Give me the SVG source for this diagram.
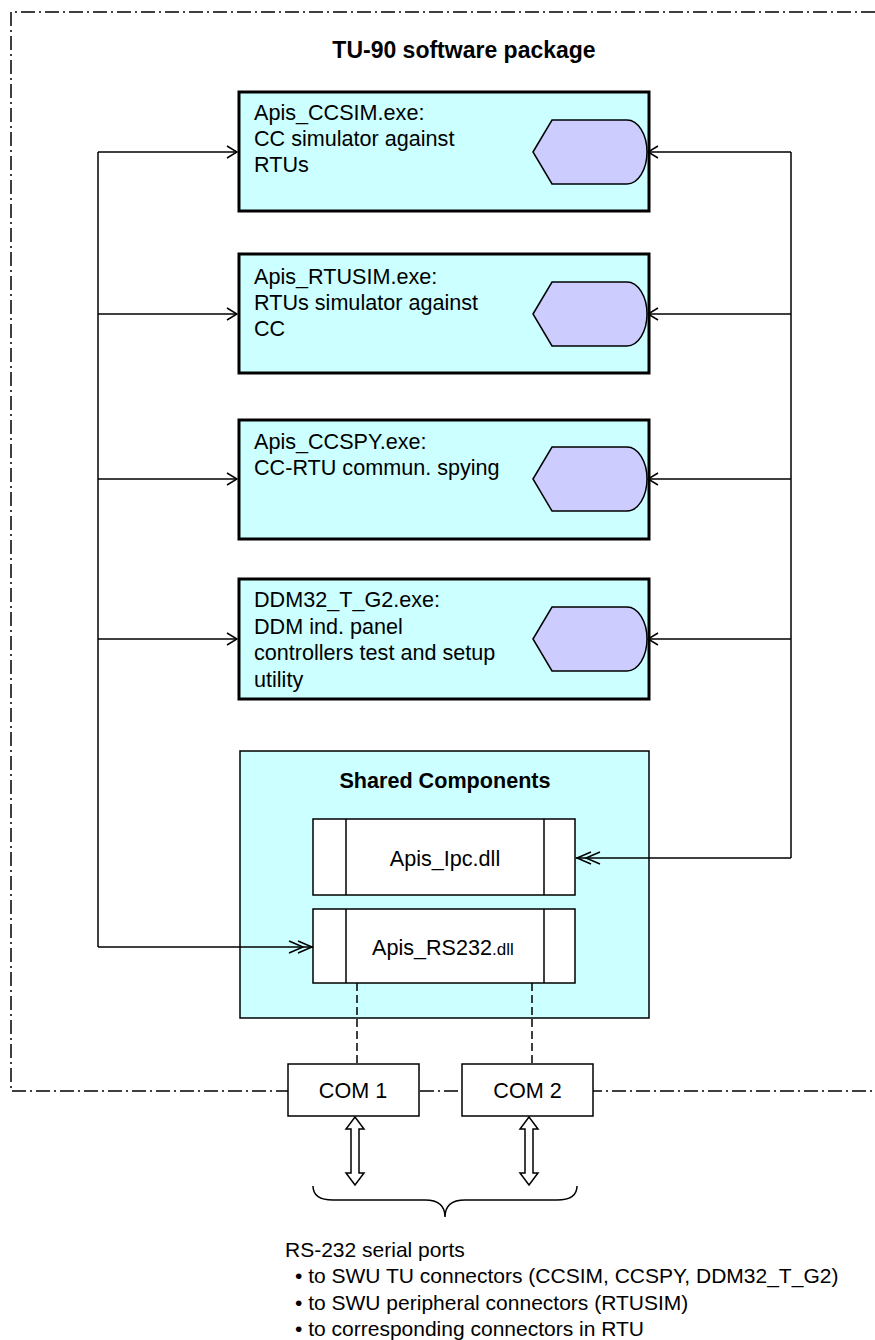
<svg xmlns="http://www.w3.org/2000/svg" width="875" height="1340" viewBox="0 0 875 1340">
<style>
text{font-family:"Liberation Sans",Arial,sans-serif;fill:#000}
.t{font-size:21.6px}
.f{font-size:21px}
.b{font-weight:bold}
.exe{fill:#CCFFFF;stroke:#000;stroke-width:3}
.hex{fill:#CCCCFF;stroke:#000;stroke-width:1.5}
.thin{stroke:#000;stroke-width:1.5}
.w{fill:#fff;stroke:#000;stroke-width:1.5}
.ln{fill:none;stroke:#000;stroke-width:1.5}
</style>
<defs>
<marker id="a1" viewBox="0 0 12 14" refX="11" refY="7" markerWidth="12" markerHeight="14" orient="auto" markerUnits="userSpaceOnUse"><path d="M1,1 L11,7 L1,13" fill="none" stroke="#000" stroke-width="1.5"/></marker>
<marker id="a2" viewBox="0 0 26 14" refX="25" refY="7" markerWidth="26" markerHeight="14" orient="auto" markerUnits="userSpaceOnUse"><path d="M1,1 L15,7 L1,13 M10,1 L24,7 L10,13" fill="none" stroke="#000" stroke-width="1.5"/></marker>
</defs>
<rect width="875" height="1340" fill="#fff"/>
<path d="M875,12 L11,12 L11,1091 L875,1091" fill="none" stroke="#000" stroke-width="1.5" stroke-dasharray="14 4 2 4"/>
<text class="b" x="464" y="58" font-size="23" text-anchor="middle">TU-90 software package</text>

<g id="ccsim">
<rect class="exe" x="239" y="92" width="410" height="119"/>
<path class="hex" d="M533,152 L552,120 L627,120 A20,32 0 0 1 647,152 A20,32 0 0 1 627,184 L552,184 Z"/>
<text class="t" x="254"><tspan x="254" y="120">Apis_CCSIM.exe:</tspan><tspan x="254" y="146">CC simulator against</tspan><tspan x="254" y="172">RTUs</tspan></text>
</g>
<g id="rtusim">
<rect class="exe" x="239" y="254" width="410" height="119"/>
<path class="hex" d="M533,314 L552,282 L627,282 A20,32 0 0 1 647,314 A20,32 0 0 1 627,346 L552,346 Z"/>
<text class="t" x="254"><tspan x="254" y="284">Apis_RTUSIM.exe:</tspan><tspan x="254" y="310">RTUs simulator against</tspan><tspan x="254" y="336">CC</tspan></text>
</g>
<g id="ccspy">
<rect class="exe" x="239" y="420" width="410" height="119"/>
<path class="hex" d="M533,479 L552,447 L627,447 A20,32 0 0 1 647,479 A20,32 0 0 1 627,511 L552,511 Z"/>
<text class="t" x="254"><tspan x="254" y="449">Apis_CCSPY.exe:</tspan><tspan x="254" y="475">CC-RTU commun. spying</tspan></text>
</g>
<g id="ddm32">
<rect class="exe" x="239" y="579" width="410" height="120"/>
<path class="hex" d="M533,639 L552,607 L627,607 A20,32 0 0 1 647,639 A20,32 0 0 1 627,671 L552,671 Z"/>
<text class="t" x="254"><tspan x="254" y="607">DDM32_T_G2.exe:</tspan><tspan x="254" y="633.5">DDM ind. panel</tspan><tspan x="254" y="660">controllers test and setup</tspan><tspan x="254" y="686.5">utility</tspan></text>
</g>
<g id="shared">
<rect x="240" y="751" width="409" height="267" fill="#CCFFFF" stroke="#000" stroke-width="1.5"/>
<text class="b" x="445" y="788" font-size="21.6" text-anchor="middle">Shared Components</text>
</g>
<g id="ipc">
<rect class="w" x="313" y="819" width="262" height="76"/>
<line class="thin" x1="346" y1="819" x2="346" y2="895"/>
<line class="thin" x1="544" y1="819" x2="544" y2="895"/>
<text class="t" x="445" y="866" text-anchor="middle">Apis_Ipc.dll</text>
</g>
<g id="rs232">
<rect class="w" x="313" y="909" width="262" height="74"/>
<line class="thin" x1="346" y1="909" x2="346" y2="983"/>
<line class="thin" x1="544" y1="909" x2="544" y2="983"/>
<text class="t" x="372" y="955">Apis_RS232<tspan font-size="17">.dll</tspan></text>
</g>
<g id="com1">
<rect class="w" x="288" y="1064" width="131" height="52"/>
<text class="t" x="353" y="1098" text-anchor="middle">COM 1</text>
</g>
<g id="com2">
<rect class="w" x="462" y="1064" width="131" height="52"/>
<text class="t" x="527.5" y="1098" text-anchor="middle">COM 2</text>
</g>

<g id="connectors">
<polyline class="ln" points="98,152 98,947"/>
<line class="ln" x1="98" y1="152" x2="237" y2="152" marker-end="url(#a1)"/>
<line class="ln" x1="98" y1="314" x2="237" y2="314" marker-end="url(#a1)"/>
<line class="ln" x1="98" y1="479" x2="237" y2="479" marker-end="url(#a1)"/>
<line class="ln" x1="98" y1="639" x2="237" y2="639" marker-end="url(#a1)"/>
<polyline class="ln" points="98,947 313,947" marker-end="url(#a2)"/>
<polyline class="ln" points="791,152 791,858"/>
<line class="ln" x1="791" y1="152" x2="648" y2="152" marker-end="url(#a1)"/>
<line class="ln" x1="791" y1="314" x2="648" y2="314" marker-end="url(#a1)"/>
<line class="ln" x1="791" y1="479" x2="648" y2="479" marker-end="url(#a1)"/>
<line class="ln" x1="791" y1="639" x2="648" y2="639" marker-end="url(#a1)"/>
<polyline class="ln" points="791,858 576,858" marker-end="url(#a2)"/>
<line class="ln" x1="357" y1="983" x2="357" y2="1064" stroke-dasharray="8 4"/>
<line class="ln" x1="532" y1="983" x2="532" y2="1064" stroke-dasharray="8 4"/>
<path class="w" d="M355,1117 L364,1129 L359,1129 L359,1173 L364,1173 L355,1185 L346,1173 L351,1173 L351,1129 L346,1129 Z"/>
<path class="w" d="M529,1117 L538,1129 L533,1129 L533,1173 L538,1173 L529,1185 L520,1173 L525,1173 L525,1129 L520,1129 Z"/>
<path class="ln" d="M313,1186 Q313,1200 333,1200 L425,1200 Q445,1200 445,1217 Q445,1200 465,1200 L557,1200 Q577,1200 577,1186"/>
</g>

<text class="f" x="285" y="1257">RS-232 serial ports</text>
<text class="f" x="295" y="1283">• to SWU TU connectors (CCSIM, CCSPY, DDM32_T_G2)</text>
<text class="f" x="295" y="1310">• to SWU peripheral connectors (RTUSIM)</text>
<text class="f" x="295" y="1336">• to corresponding connectors in RTU</text>
</svg>
